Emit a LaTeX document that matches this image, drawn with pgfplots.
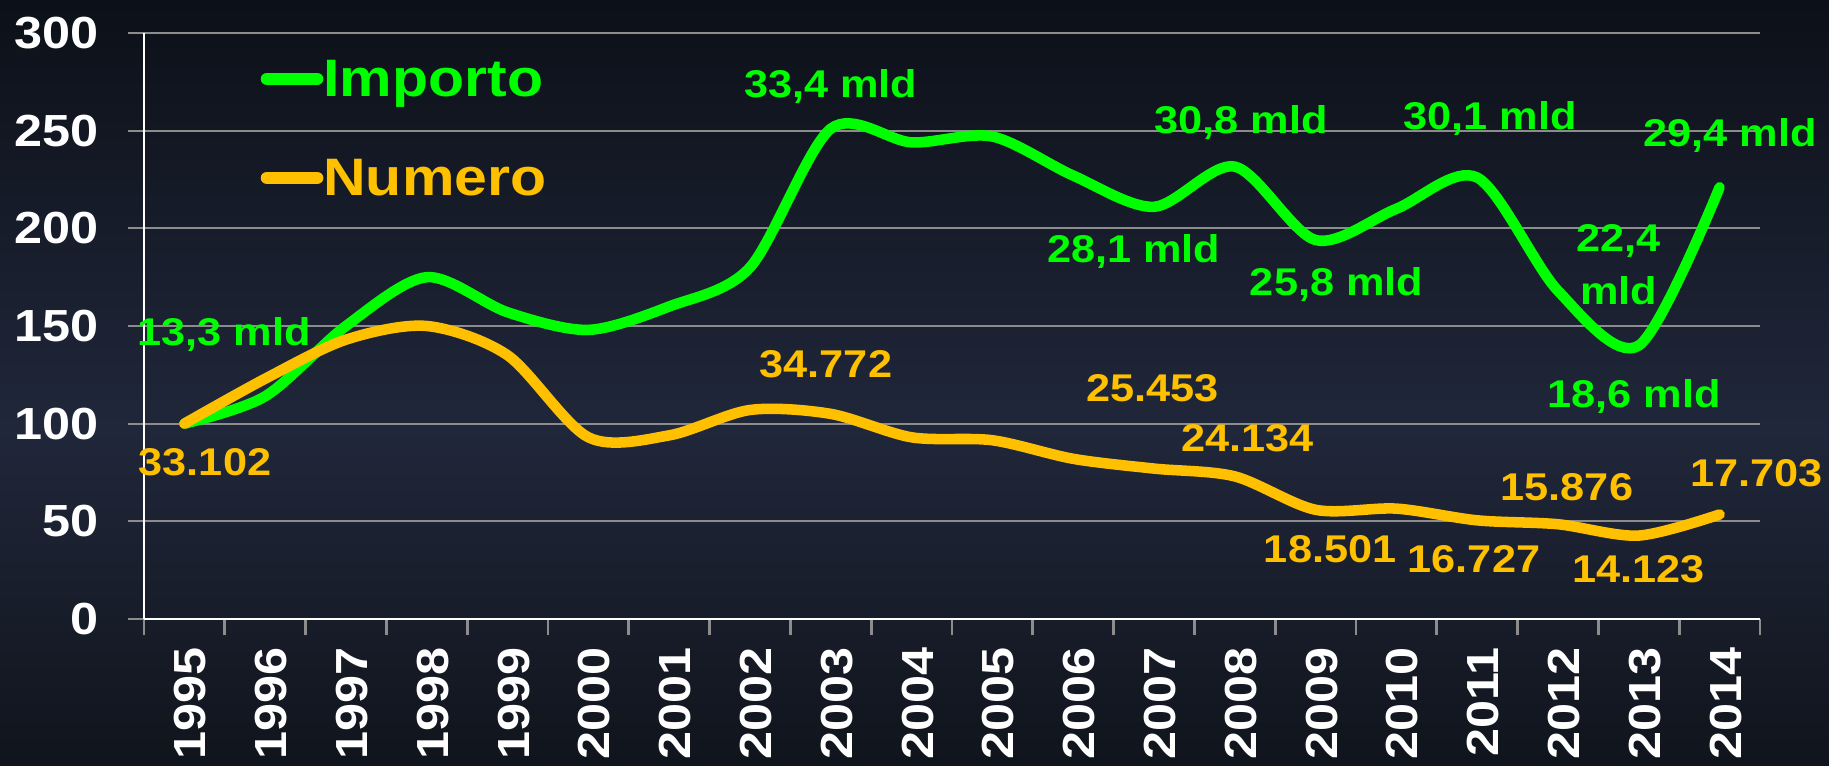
\documentclass[border=0pt]{standalone}
\usepackage{fontspec}
\setmainfont{Liberation Sans}[FakeStretch=1.12]
\usepackage{pgfplots}
\pgfplotsset{compat=1.18}
\definecolor{lgreen}{HTML}{00FF00}
\definecolor{lorange}{HTML}{FFC000}
\definecolor{bgtop}{HTML}{0C1018}
\definecolor{bgmid}{HTML}{20273A}
\definecolor{bgbot}{HTML}{10141C}
\definecolor{gridc}{HTML}{8C8C8C}
\pgfdeclareverticalshading{bgshade}{100bp}{color(0bp)=(bgbot); color(25bp)=(bgbot); color(47bp)=(bgmid); color(75bp)=(bgtop); color(100bp)=(bgtop)}
\begin{document}
\begin{tikzpicture}
\useasboundingbox (0,0) rectangle (182.9mm,76.6mm);
\shade[shading=bgshade] (0,0) rectangle (182.9mm,76.6mm);
\begin{axis}[
  at={(14.4mm,14.7mm)}, anchor=south west,
  scale only axis, width=161.6mm, height=58.6mm,
  xmin=-0.5, xmax=19.5, ymin=0, ymax=300,
  axis x line*=bottom, axis y line*=left,
  axis line style={white, line width=0.6pt},
  ytick={0,50,...,300},
  ymajorgrids, grid style={gridc, line width=0.6pt},
  xtick={0,...,19},
  xticklabels={1995,1996,1997,1998,1999,2000,2001,2002,2003,2004,2005,2006,2007,2008,2009,2010,2011,2012,2013,2014},
  minor xtick={-0.5,0.5,...,19.5},
  tick align=outside,
  major tick length=1.6mm, minor tick length=1.6mm,
  every major x tick/.append style={draw=none},
  every minor x tick/.append style={gridc, line width=0.8pt},
  every major y tick/.append style={gridc, line width=0.6pt},
  tick label style={text=white, font=\bfseries\fontsize{12.8}{14}\selectfont},
  yticklabel style={xshift=-1.7mm},
  xticklabel style={rotate=90, anchor=east, yshift=-0.6mm},
  /pgf/number format/assume math mode=true,
  clip=false,
  legend style={at={(axis description cs:0.0718,0.957)}, anchor=north west, draw=none, fill=none, inner sep=0pt, row sep=4.9mm, column sep=0pt, nodes={inner sep=0pt, text height=3.8mm, text depth=1.2mm}, font=\bfseries\fontsize{15}{18}\selectfont},
  legend cell align=left,
  legend image code/.code={\draw[line width=3.6pt, line cap=round, #1] (0mm,0.5mm) -- (5mm,0.5mm);},
]
\addplot[lgreen, line width=3pt, smooth, line cap=round] coordinates {
 (0,100) (1,114) (2,150) (3,175) (4,157) (5,148) (6,160) (7,180) (8,251) (9,244)
 (10,247) (11,227) (12,211) (13,231.6) (14,194) (15,210) (16,226) (17,168) (18,140) (19,221)};
\addlegendentry{\textcolor{lgreen}{\bfseries Importo}}
\addplot[lorange, line width=3pt, smooth, line cap=round] coordinates {
 (0,100) (1,123) (2,143) (3,150) (4,135) (5,93) (6,94) (7,107) (8,105) (9,93)
 (10,91.5) (11,82) (12,77) (13,73) (14,55.9) (15,56.5) (16,50.5) (17,48.5) (18,42.7) (19,53.5)};
\addlegendentry{\textcolor{lorange}{\bfseries Numero}}
\begin{scope}[every node/.style={font=\bfseries\fontsize{11}{15}\selectfont, anchor=base, inner sep=0pt}]
\node[text=lgreen] at (axis cs:0.49,139.8) {13,3 mld};
\node[text=lgreen] at (axis cs:8.0,266.8) {33,4 mld};
\node[text=lgreen] at (axis cs:11.75,182.3) {28,1 mld};
\node[text=lgreen] at (axis cs:13.08,248.3) {30,8 mld};
\node[text=lgreen] at (axis cs:14.26,165.8) {25,8 mld};
\node[text=lgreen] at (axis cs:16.16,250.4) {30,1 mld};
\node[text=lgreen] at (axis cs:17.75,187.9) {22,4};
\node[text=lgreen] at (axis cs:17.75,160.8) {mld};
\node[text=lgreen] at (axis cs:17.94,108.5) {18,6 mld};
\node[text=lgreen] at (axis cs:19.13,241.7) {29,4 mld};
\node[text=lorange] at (axis cs:0.255,73.7) {33.102};
\node[text=lorange] at (axis cs:7.94,123.4) {34.772};
\node[text=lorange] at (axis cs:11.98,111.1) {25.453};
\node[text=lorange] at (axis cs:13.16,85.5) {24.134};
\node[text=lorange] at (axis cs:14.18,28.7) {18.501};
\node[text=lorange] at (axis cs:15.96,23.6) {16.727};
\node[text=lorange] at (axis cs:17.11,60.9) {15.876};
\node[text=lorange] at (axis cs:18.0,18.9) {14.123};
\node[text=lorange] at (axis cs:19.46,67.6) {17.703};
\end{scope}
\end{axis}
\end{tikzpicture}
\end{document}
